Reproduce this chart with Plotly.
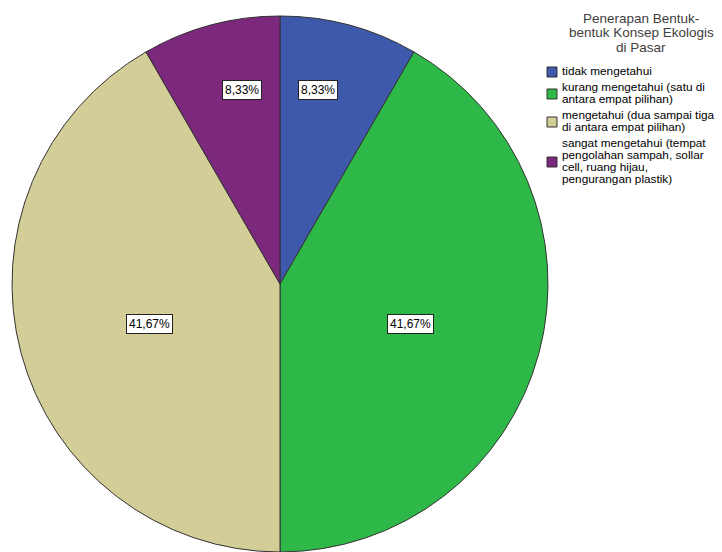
import math
import plotly.graph_objects as go

categories = [
    "tidak mengetahui",
    "kurang mengetahui (satu di<br>antara empat pilihan)",
    "mengetahui (dua sampai tiga<br>di antara empat pilihan)",
    "sangat mengetahui (tempat<br>pengolahan sampah, sollar<br>cell, ruang hijau,<br>pengurangan plastik)",
]
values = [1, 5, 5, 1]
colors = ["#3E58AC", "#2EB848", "#D3CE97", "#7C287D"]
legend_title_lines = ["Penerapan Bentuk-", "bentuk Konsep Ekologis", "di Pasar"]

W, H = 722, 552
cx_px, cy_px, R_px = 280, 284, 268
dom_x = [(cx_px - R_px) / W, (cx_px + R_px) / W]
dom_y = [1 - (cy_px + R_px) / H, 1 - (cy_px - R_px) / H]

FONT = "Liberation Sans, Arial, sans-serif"

def px(x, y):
    return x / W, 1 - y / H

fig = go.Figure(go.Pie(
    labels=[c.replace("<br>", " ") for c in categories],
    values=values,
    sort=False,
    direction="clockwise",
    rotation=0,
    textinfo="none",
    hoverinfo="label+percent",
    marker=dict(colors=colors, line=dict(color="#333333", width=1)),
    domain=dict(x=dom_x, y=dom_y),
    showlegend=False,
))

annotations = []
shapes = []

# percentage labels with boxed text
total = sum(values)
cum = 0
for v in values:
    frac = v / total
    mid = (cum + frac / 2) * 2 * math.pi
    cum += frac
    small = frac < 0.2
    rf = 0.77 if small else 0.505
    dx = R_px * rf * math.sin(mid)
    dy = R_px * rf * math.cos(mid)
    x, y = px(cx_px + dx * (0.72 if small else 1.0), cy_px - dy)
    annotations.append(dict(
        x=x, y=y, xref="paper", yref="paper", showarrow=False,
        xanchor="center", yanchor="middle", yshift=-5,
        text=f"{frac*100:.2f}%".replace(".", ","),
        font=dict(family=FONT, size=12, color="#000000"),
        bgcolor="#FFFFFF", bordercolor="#222222", borderwidth=1, borderpad=2,
    ))

# legend title
title_cx = 641
for i, line in enumerate(legend_title_lines):
    x, y = px(title_cx, 18 + i * 14.5)
    annotations.append(dict(
        x=x, y=y, xref="paper", yref="paper", showarrow=False,
        xanchor="center", yanchor="middle", text=line,
        font=dict(family=FONT, size=13.5, color="#404040"),
    ))

# legend entries
line_h = 12
entry_gap = 16
y_cur = 71
sw_x0, sw_x1 = 547, 557
text_x = 560
for cat, col in zip(categories, colors):
    lines = cat.split("<br>")
    ys = [y_cur + k * line_h for k in range(len(lines))]
    for ln, yy in zip(lines, ys):
        x, y = px(text_x, yy)
        annotations.append(dict(
            x=x, y=y, xref="paper", yref="paper", showarrow=False,
            xanchor="left", yanchor="middle", text=ln,
            font=dict(family=FONT, size=11.8, color="#000000"),
        ))
    yc = (ys[0] + ys[-1]) / 2 + 1
    x0, y0 = px(sw_x0, yc - 5)
    x1, y1 = px(sw_x1, yc + 5)
    shapes.append(dict(type="rect", xref="paper", yref="paper",
                       x0=x0, x1=x1, y0=y0, y1=y1,
                       fillcolor=col, line=dict(color="#333333", width=1)))
    y_cur = ys[-1] + entry_gap

fig.update_layout(
    width=W, height=H,
    margin=dict(l=0, r=0, t=0, b=0, pad=0, autoexpand=False),
    paper_bgcolor="white",
    annotations=annotations,
    shapes=shapes,
    showlegend=False,
)

fig.write_html("out.html", config={"displayModeBar": False},
               post_script="document.body.style.margin='0';")
